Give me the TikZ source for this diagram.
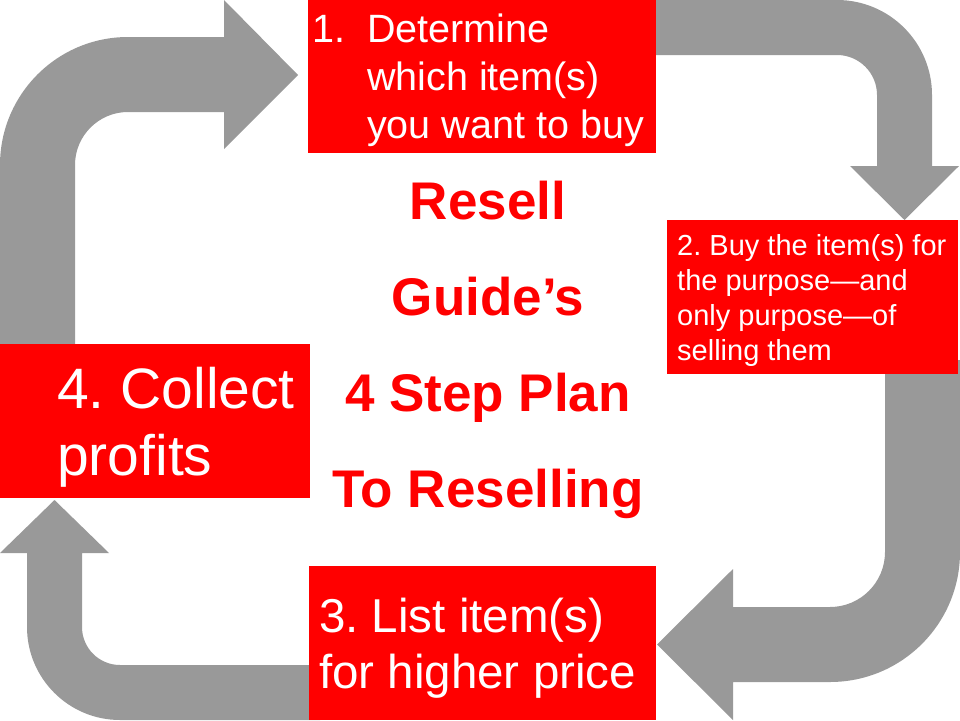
\documentclass[tikz,border=0pt]{standalone}
\usepackage{fontspec}
\setmainfont{Liberation Sans}
\frenchspacing
\definecolor{arrowgray}{RGB}{153,153,153}
\definecolor{boxred}{RGB}{255,0,0}
\begin{document}
\begin{tikzpicture}[x=1pt,y=-1pt,
  bigarrow/.style={fill=arrowgray,draw=none},
  stepbox/.style={fill=boxred,draw=none,rectangle,inner sep=0pt},
  steptext/.style={text=white,inner sep=0pt,anchor=base west},
  titletext/.style={text=boxred,inner sep=0pt,anchor=base,font=\bfseries\fontsize{53}{60}\selectfont}]
\useasboundingbox (0,0) rectangle (960,720);
% block arrows
\path[bigarrow] (0,344) -- (0,165) arc[start angle=180,end angle=270,radius=128]
  -- (224,37) -- (224,0) -- (298,75) -- (224,149) -- (224,112) -- (128,112)
  arc[start angle=270,end angle=180,radius=53] -- (75,344) -- cycle;
\path[bigarrow] (640,0) -- (837,0) arc[start angle=270,end angle=360,radius=95]
  -- (932,166) -- (959,166) -- (904.5,220) -- (850,166) -- (877,166) -- (877,95)
  arc[start angle=0,end angle=-90,radius=40] -- (640,55) -- cycle;
\path[bigarrow] (960,360) -- (960,552) arc[start angle=0,end angle=90,radius=130]
  -- (733,682) -- (733,720) -- (657,644.5) -- (733,569) -- (733,607) -- (830,607)
  arc[start angle=90,end angle=0,radius=55] -- (885,360) -- cycle;
\path[bigarrow] (320,720) -- (120,720) arc[start angle=90,end angle=180,radius=93]
  -- (27,553) -- (0,553) -- (54.5,500) -- (109,553) -- (82,553) -- (82,627)
  arc[start angle=180,end angle=90,radius=38] -- (320,665) -- cycle;
% boxes
\node[stepbox,minimum width=348pt,minimum height=153pt] (b1) at (482,76.5) {};
\node[stepbox,minimum width=291pt,minimum height=154pt] (b2) at (812.5,297) {};
\node[stepbox,minimum width=347pt,minimum height=154pt] (b3) at (482.5,643) {};
\node[stepbox,minimum width=310pt,minimum height=154pt] (b4) at (155,421) {};
% box 1 text
\begin{scope}[every node/.append style={font=\fontsize{39.5}{48}\selectfont}]
\node[steptext] (t1n) at (312,42) {1.};
\node[steptext] (t1a) at (367,42) {Determine};
\node[steptext] (t1b) at (367,90) {which item(s)};
\node[steptext] (t1c) at (367,138) {you want to buy};
\end{scope}
% box 2 text
\begin{scope}[every node/.append style={font=\fontsize{29}{35}\selectfont}]
\node[steptext] (t2a) at (677,255) {2. Buy the item(s) for};
\node[steptext] (t2b) at (677,290) {the purpose—and};
\node[steptext] (t2c) at (677,325) {only purpose—of};
\node[steptext] (t2d) at (677,360) {selling them};
\end{scope}
% box 3 text
\begin{scope}[every node/.append style={font=\fontsize{47.5}{56}\selectfont}]
\node[steptext] (t3a) at (319,632) {3. List item(s)};
\node[steptext] (t3b) at (319,688) {for higher price};
\end{scope}
% box 4 text
\begin{scope}[every node/.append style={font=\fontsize{57}{67}\selectfont}]
\node[steptext] (t4a) at (57,408) {4. Collect};
\node[steptext] (t4b) at (57,475) {profits};
\end{scope}
% title
\node[titletext] (ta) at (488,219) {Resell};
\node[titletext] (tb) at (488,315) {Guide’s};
\node[titletext] (tc) at (488,411) {4 Step Plan};
\node[titletext] (td) at (488,507) {To Reselling};
\end{tikzpicture}
\end{document}
